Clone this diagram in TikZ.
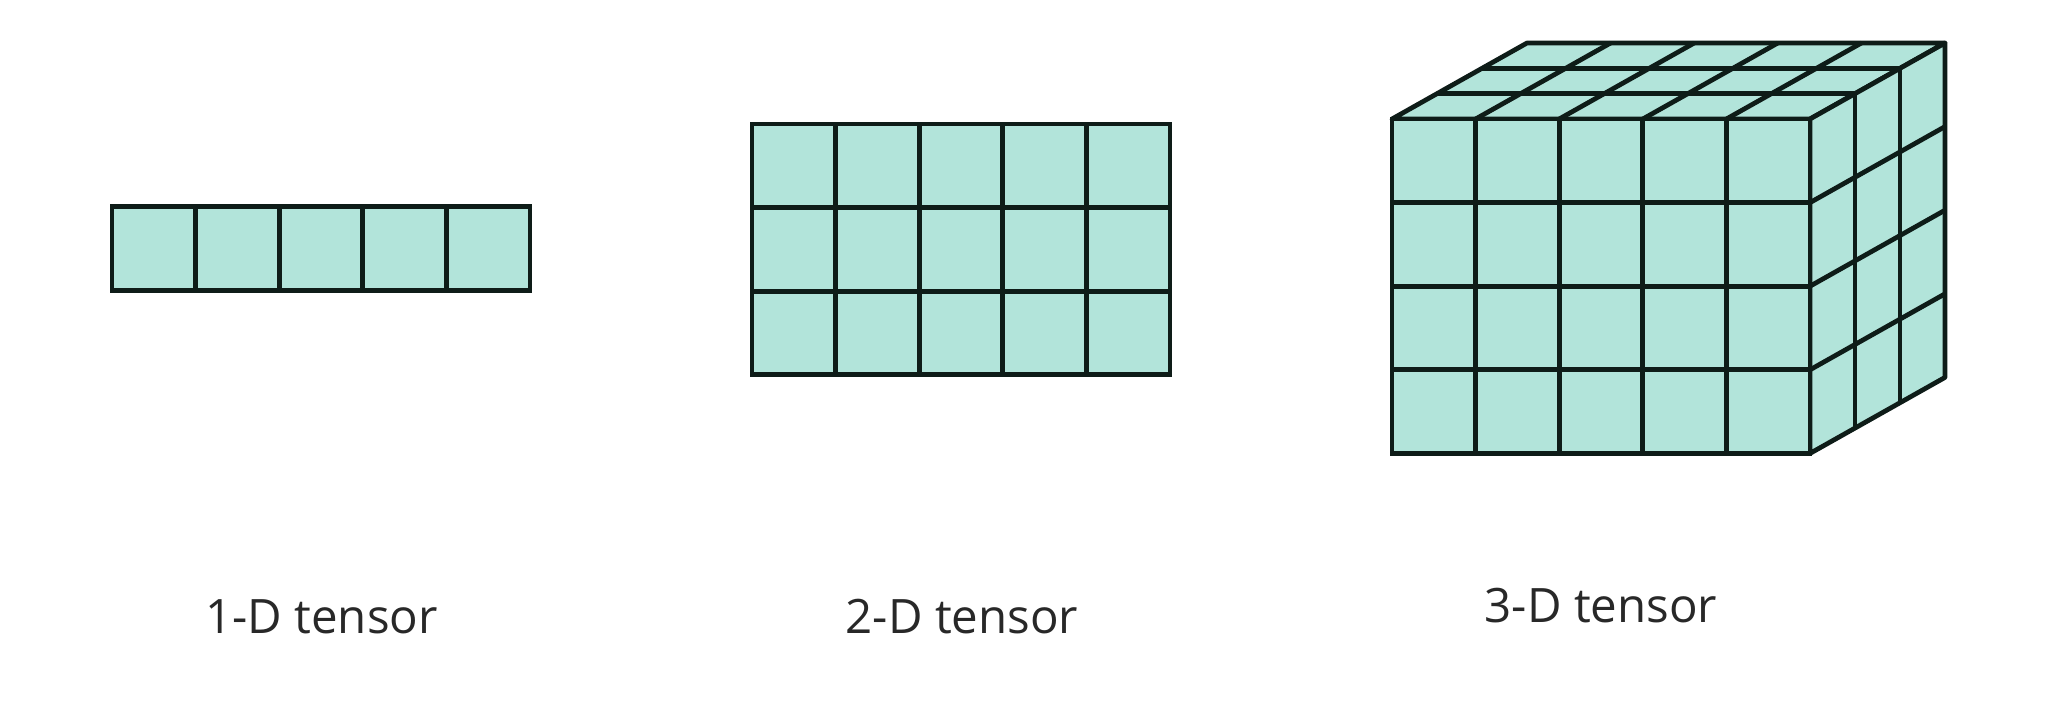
\documentclass[tikz,border=0pt]{standalone}
\usepackage{fontspec}
\setmainfont{Open Sans}
\usepackage{tikz}
\usetikzlibrary{calc,positioning}
\definecolor{cellfill}{RGB}{178,228,218}
\definecolor{celledge}{RGB}{14,28,24}
\definecolor{labeltext}{RGB}{40,40,40}
\tikzset{
  cell/.style={
    draw=celledge,
    fill=cellfill,
    rectangle,
    minimum size=1.672cm,
    inner sep=0pt,
    line width=2.7pt,
  },
  face/.style={fill=cellfill, draw=celledge, line width=2.7pt, line join=round},
  gridline/.style={draw=celledge, line width=2.7pt},
  caption/.style={text=labeltext, font=\fontsize{27}{32}\selectfont, anchor=base, inner sep=0pt},
}

\begin{document}
\begin{tikzpicture}[x=0.02cm, y=0.02cm]
  \useasboundingbox (0,0) rectangle (2055,701);
  % 1-D tensor
  \foreach \i in {1,...,5}
    \node[cell] (v\i) at ({112+41.8+83.6*(\i-1)}, 452.5) {};
  % 2-D tensor
  \foreach \r in {1,...,3}
    \foreach \c in {1,...,5}
      \node[cell] (m\r\c) at ({752+41.8+83.6*(\c-1)}, {577-41.8-83.6*(\r-1)}) {};
  % 3-D tensor: top and right faces first
  \coordinate (ftl) at (1392, 582);
  \coordinate (ftr) at (1810, 582);
  \coordinate (fbr) at (1810, 247.6);
  \coordinate (dep) at (135, 76);
  \path[face] (ftl) -- (ftr) -- ($(ftr)+(dep)$) -- ($(ftl)+(dep)$) -- cycle;
  \path[face] (ftr) -- (fbr) -- ($(fbr)+(dep)$) -- ($(ftr)+(dep)$) -- cycle;
  \foreach \k in {1,2} {
    \draw[gridline] ($(ftl)+\k/3*(dep)$) -- ($(ftr)+\k/3*(dep)$);
    \draw[gridline] ($(ftr)+\k/3*(dep)$) -- ($(fbr)+\k/3*(dep)$);
  }
  \foreach \c in {1,...,4}
    \draw[gridline] ($(ftl)+(83.6*\c,0)$) -- ++(dep);
  \foreach \r in {1,...,3}
    \draw[gridline] ($(fbr)+(0,83.6*\r)$) -- ++(dep);
  % front face
  \foreach \r in {1,...,4}
    \foreach \c in {1,...,5}
      \node[cell] (t\r\c) at ({1392+41.8+83.6*(\c-1)}, {582-41.8-83.6*(\r-1)}) {};
  % captions
  \node[caption] (lab1) at (321.5, 68) {1-D tensor};
  \node[caption] (lab2) at (962, 68) {2-D tensor};
  \node[caption] (lab3) at (1601, 79) {3-D tensor};
\end{tikzpicture}
\end{document}
